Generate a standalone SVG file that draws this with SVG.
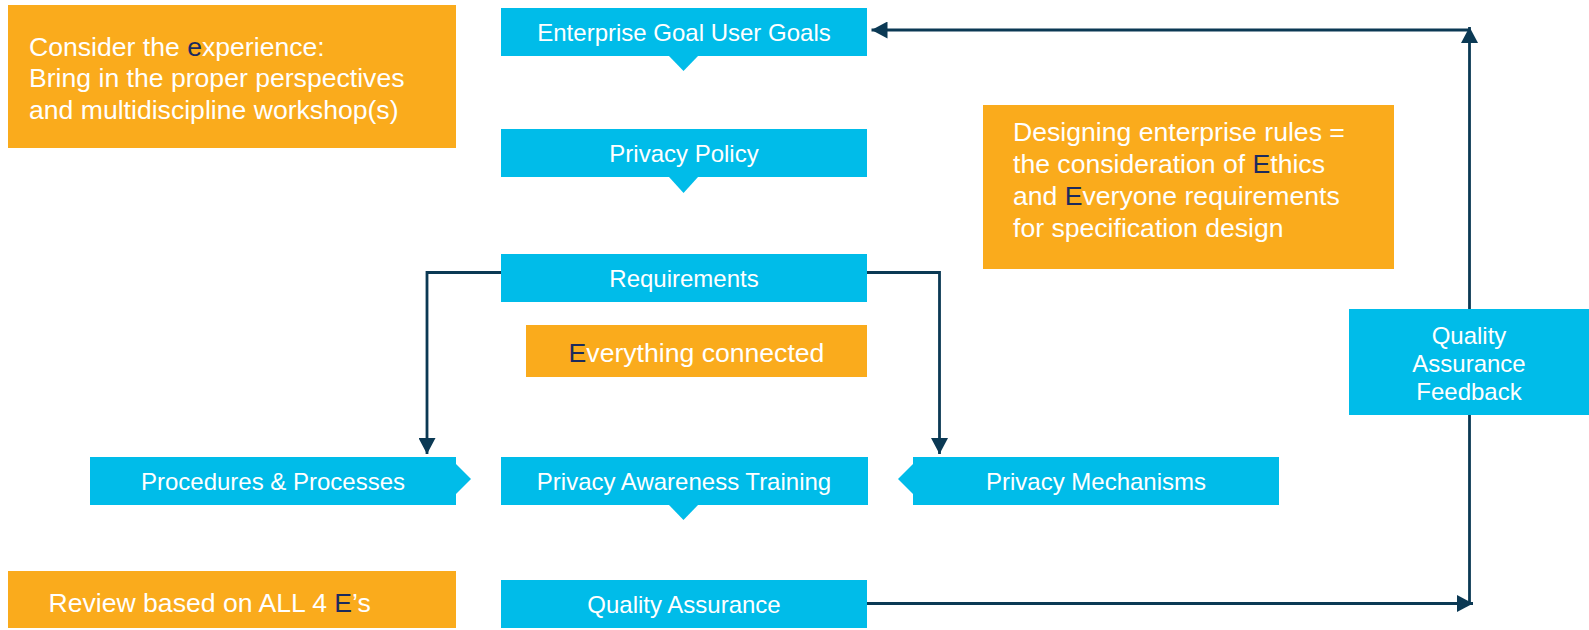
<svg xmlns="http://www.w3.org/2000/svg" width="1589" height="630" viewBox="0 0 1589 630">
  <style>
    .blue { fill: #00BCE9; }
    .orange { fill: #FAAB1C; }
    .lbl { font-family: "Liberation Sans", Arial, sans-serif; font-size: 24px; fill: #FFFFFF; text-anchor: middle; }
    .note { font-family: "Liberation Sans", Arial, sans-serif; font-size: 26.6px; fill: #FFFFFF; }
    .em { fill: #1B2A5E; }
    .conn { fill: none; stroke: #0B3954; stroke-width: 2.8; }
  </style>
  <defs>
    <marker id="arrow" viewBox="0 0 16 17" markerWidth="16" markerHeight="17" refX="16" refY="8.5" orient="auto" markerUnits="userSpaceOnUse">
      <path d="M0,0 L16,8.5 L0,17 Z" fill="#0B3954"/>
    </marker>
  </defs>

  <!-- connectors drawn first so boxes sit on top -->
  <g id="connectors">
    <path class="conn" d="M501,272.5 H427 V454" marker-end="url(#arrow)"/>
    <path class="conn" d="M867,272.5 H939.5 V454" marker-end="url(#arrow)"/>
    <path class="conn" d="M867,603.5 H1473" marker-end="url(#arrow)"/>
    <path class="conn" d="M1469.5,603.5 V27" marker-end="url(#arrow)"/>
    <path class="conn" d="M1469.5,30 H871.5" marker-end="url(#arrow)"/>
  </g>

  <g id="note-experience">
    <rect class="orange" x="8" y="5" width="448" height="143"/>
    <text class="note" x="29" y="55.5">Consider the <tspan class="em">e</tspan>xperience:</text>
    <text class="note" x="29" y="87">Bring in the proper perspectives</text>
    <text class="note" x="29" y="118.5">and multidiscipline workshop(s)</text>
  </g>

  <g id="enterprise-goals">
    <rect class="blue" x="501" y="8" width="366" height="48"/>
    <path class="blue" d="M669,56 L698,56 L683.5,71 Z"/>
    <text class="lbl" x="684" y="41">Enterprise Goal User Goals</text>
  </g>

  <g id="privacy-policy">
    <rect class="blue" x="501" y="129" width="366" height="48"/>
    <path class="blue" d="M669,177 L698,177 L683.5,193 Z"/>
    <text class="lbl" x="684" y="161.5">Privacy Policy</text>
  </g>

  <g id="note-ethics">
    <rect class="orange" x="983" y="105" width="411" height="164"/>
    <text class="note" x="1013" y="140.7">Designing enterprise rules =</text>
    <text class="note" x="1013" y="172.8">the consideration of <tspan class="em">E</tspan>thics</text>
    <text class="note" x="1013" y="205">and <tspan class="em">E</tspan>veryone requirements</text>
    <text class="note" x="1013" y="237">for specification design</text>
  </g>

  <g id="requirements">
    <rect class="blue" x="501" y="254" width="366" height="48"/>
    <text class="lbl" x="684" y="287">Requirements</text>
  </g>

  <g id="note-everything">
    <rect class="orange" x="526" y="325" width="341" height="52"/>
    <text class="note" x="696.5" y="361.5" text-anchor="middle"><tspan class="em">E</tspan>verything connected</text>
  </g>

  <g id="qa-feedback">
    <rect class="blue" x="1349" y="309" width="240" height="106"/>
    <text class="lbl" x="1469" y="343.6">Quality</text>
    <text class="lbl" x="1469" y="371.8">Assurance</text>
    <text class="lbl" x="1469" y="400">Feedback</text>
  </g>

  <g id="procedures">
    <rect class="blue" x="90" y="457" width="366" height="48"/>
    <path class="blue" d="M456,464 L471,479 L456,494 Z"/>
    <text class="lbl" x="273" y="489.5">Procedures &amp; Processes</text>
  </g>

  <g id="awareness-training">
    <rect class="blue" x="501" y="457" width="367" height="48"/>
    <path class="blue" d="M669,505 L698,505 L683.5,520 Z"/>
    <text class="lbl" x="684" y="489.5">Privacy Awareness Training</text>
  </g>

  <g id="mechanisms">
    <rect class="blue" x="913" y="457" width="366" height="48"/>
    <path class="blue" d="M913,464 L898,479 L913,494 Z"/>
    <text class="lbl" x="1096" y="489.5">Privacy Mechanisms</text>
  </g>

  <g id="note-review">
    <rect class="orange" x="8" y="571" width="448" height="57"/>
    <text class="note" x="48.5" y="611.5">Review based on ALL 4 <tspan class="em">E</tspan>’s</text>
  </g>

  <g id="quality-assurance">
    <rect class="blue" x="501" y="580" width="366" height="48"/>
    <text class="lbl" x="684" y="613">Quality Assurance</text>
  </g>
</svg>
